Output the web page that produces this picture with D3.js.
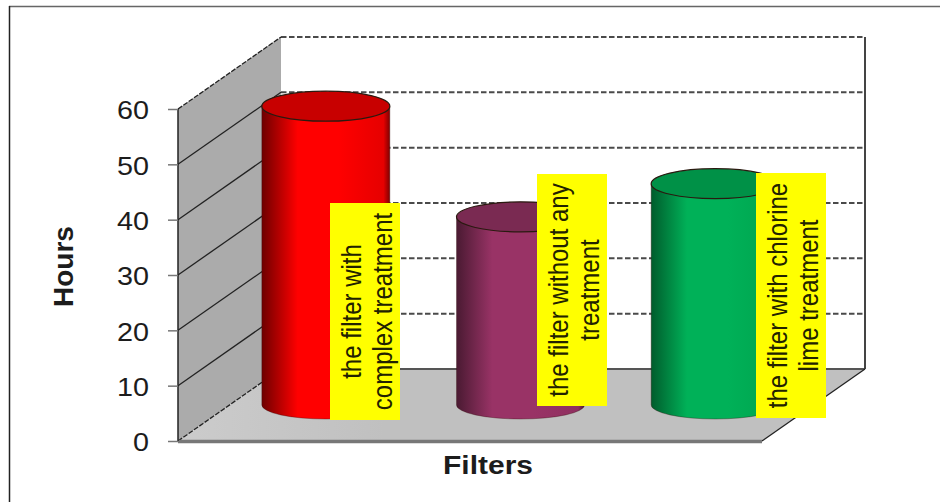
<!DOCTYPE html>
<html>
<head>
<meta charset="utf-8">
<script src="https://cdnjs.cloudflare.com/ajax/libs/d3/7.8.5/d3.min.js"></script>
<style>
  html, body { margin: 0; padding: 0; background: #fff; }
  svg { display: block; }
  text { font-family: "Liberation Sans", Arial, sans-serif; }
</style>
</head>
<body>
<svg id="chart" width="940" height="502"></svg>
<script>
// Filter run times, in hours
const filters = ["complex", "none", "chlorine"];
const hours = [54, 34, 40];
const yTicks = [0, 10, 20, 30, 40, 50, 60];
const labelLines = [
  ["the filter with", "complex treatment"],
  ["the filter without any", "treatment"],
  ["the filter with chlorine", "lime treatment"]
];

// Body, lid and edge shades for each cylinder
const bodyShades = [
  ["#6e0000", "#ff0000", "#ff0000", "#e60000", "#800000"],
  ["#4a1a32", "#993366", "#993366", "#8f2f60", "#4d1a33"],
  ["#005c2c", "#00b158", "#00b158", "#00a54f", "#005c2c"]
];
const lidFills = ["#c80000", "#7a2a52", "#009147"];

// Oblique projection: the depth axis runs up and to the right
const depthX = 103, depthY = -72;
const svg = d3.select("#chart");
const x = d3.scaleBand().domain(filters).range([178, 762]);
const y = d3.scaleLinear().domain([0, 60]).range([441, 109]);
const rx = 64, ry = 14;
const left = x.range()[0], right = x.range()[1];

const defs = svg.append("defs");
bodyShades.forEach((shades, i) => {
  const g = defs.append("linearGradient").attr("id", "body" + i);
  [0, 0.28, 0.6, 0.95, 1].forEach((o, k) =>
    g.append("stop").attr("offset", o).attr("stop-color", shades[k]));
});
const floorGrad = defs.append("linearGradient").attr("id", "floor");
floorGrad.append("stop").attr("offset", 0).attr("stop-color", "#cccccc");
floorGrad.append("stop").attr("offset", 0.3).attr("stop-color", "#c0c0c0");

// Outer frame (top and left edges only)
svg.append("line").attr("x1", 9).attr("x2", 940).attr("y1", 6.5).attr("y2", 6.5)
  .attr("stroke", "#666").attr("stroke-width", 1.5);
svg.append("line").attr("x1", 9.5).attr("x2", 9.5).attr("y1", 6).attr("y2", 502)
  .attr("stroke", "#222").attr("stroke-width", 1.5);

const polygon = pts => "M" + pts.map(p => p.join(",")).join("L") + "Z";

// Side wall and floor
svg.append("path")
  .attr("d", polygon([[left, y(60)], [left + depthX, y(60) + depthY], [left + depthX, y(0) + depthY], [left, y(0)]]))
  .attr("fill", "#ababab");
svg.append("path")
  .attr("d", polygon([[left, y(0)], [left + depthX, y(0) + depthY], [right + depthX, y(0) + depthY], [right, y(0)]]))
  .attr("fill", "url(#floor)");

// Horizontal rules on the back wall
svg.selectAll(".grid").data(yTicks.slice(1)).join("line").attr("class", "grid")
  .attr("x1", left + depthX).attr("x2", right + depthX)
  .attr("y1", d => y(d) + depthY).attr("y2", d => y(d) + depthY)
  .attr("stroke", "#4a4a4a").attr("stroke-width", 2).attr("stroke-dasharray", "5.5 2.5");

// Rules across the side wall
svg.selectAll(".wall").data(yTicks).join("line").attr("class", "wall")
  .attr("x1", left).attr("x2", left + depthX)
  .attr("y1", d => y(d)).attr("y2", d => y(d) + depthY)
  .attr("stroke", "#222").attr("stroke-width", 1.3)
  .attr("stroke-dasharray", d => (d === 0 || d === 60) ? "5 1.5" : null);

// Back edge of the floor and right side of the box
svg.append("line").attr("x1", left + depthX).attr("x2", right + depthX)
  .attr("y1", y(0) + depthY).attr("y2", y(0) + depthY)
  .attr("stroke", "#555").attr("stroke-width", 1.8);
svg.append("line").attr("x1", right + depthX).attr("x2", right + depthX)
  .attr("y1", y(60) + depthY).attr("y2", y(0) + depthY)
  .attr("stroke", "#444").attr("stroke-width", 2);
svg.append("line").attr("x1", right + depthX).attr("x2", right)
  .attr("y1", y(0) + depthY).attr("y2", y(0))
  .attr("stroke", "#222").attr("stroke-width", 1.3);

// Cylinders stand halfway into the depth of the floor
const cx = d => x(d) + x.bandwidth() / 2 + depthX / 2 - 1;
const cyOf = v => y(v) + depthY / 2;

hours.forEach((v, i) => {
  const c = cx(filters[i]), top = cyOf(v), base = cyOf(0);
  svg.append("path")
    .attr("d", `M${c - rx},${top}L${c - rx},${base}A${rx},${ry} 0 0 0 ${c + rx},${base}L${c + rx},${top}Z`)
    .attr("fill", `url(#body${i})`)
    .attr("stroke", "#3a1010").attr("stroke-opacity", 0.35).attr("stroke-width", 1);
  svg.append("ellipse")
    .attr("cx", c).attr("cy", top).attr("rx", rx).attr("ry", ry + 1)
    .attr("fill", lidFills[i]).attr("stroke", "#2a1a10").attr("stroke-width", 1.2);
});

// Axis lines
svg.append("line").attr("x1", left).attr("x2", right).attr("y1", y(0) + 0.5).attr("y2", y(0) + 0.5)
  .attr("stroke", "#777").attr("stroke-width", 3.5);
svg.append("line").attr("x1", left).attr("x2", left).attr("y1", y(60)).attr("y2", y(0))
  .attr("stroke", "#222").attr("stroke-width", 1.5);

const yAxis = svg.append("g")
  .attr("transform", `translate(${left},0)`)
  .call(d3.axisLeft(y).tickValues(yTicks).tickSize(10).tickPadding(19));
yAxis.select(".domain").remove();
yAxis.selectAll("line").attr("stroke", "#777").attr("stroke-width", 1.5);
yAxis.selectAll("text")
  .attr("font-size", 26).attr("fill", "#1c1c1c").attr("dy", "0.38em")
  .attr("textLength", d => d === 0 ? 16 : 32).attr("lengthAdjust", "spacingAndGlyphs");

// Axis titles
svg.append("text").attr("transform", "translate(73,266.5) rotate(-90)")
  .attr("text-anchor", "middle").attr("font-size", 28).attr("font-weight", "bold")
  .attr("fill", "#1c1c1c").text("Hours");
svg.append("text").attr("x", 488).attr("y", 474)
  .attr("text-anchor", "middle").attr("font-size", 26).attr("font-weight", "bold")
  .attr("textLength", 90).attr("lengthAdjust", "spacingAndGlyphs")
  .attr("fill", "#1c1c1c").text("Filters");

// Yellow callouts with rotated text
const boxX = [330, 537, 756], boxW = 70;
const boxTop = [203, 174, 173], boxBottom = [420, 406, 418];
const lineGap = 30.5;
labelLines.forEach((lines, i) => {
  svg.append("rect")
    .attr("x", boxX[i]).attr("y", boxTop[i])
    .attr("width", boxW).attr("height", boxBottom[i] - boxTop[i])
    .attr("fill", "#ffff00");
  const mid = (boxTop[i] + boxBottom[i]) / 2;
  lines.forEach((t, k) => {
    svg.append("text")
      .attr("transform", `translate(${boxX[i] + 31 + k * lineGap},${mid}) rotate(-90) scale(1,1.12)`)
      .attr("text-anchor", "middle").attr("font-size", 24).attr("fill", "#222200")
      .text(t);
  });
});
</script>
</body>
</html>
